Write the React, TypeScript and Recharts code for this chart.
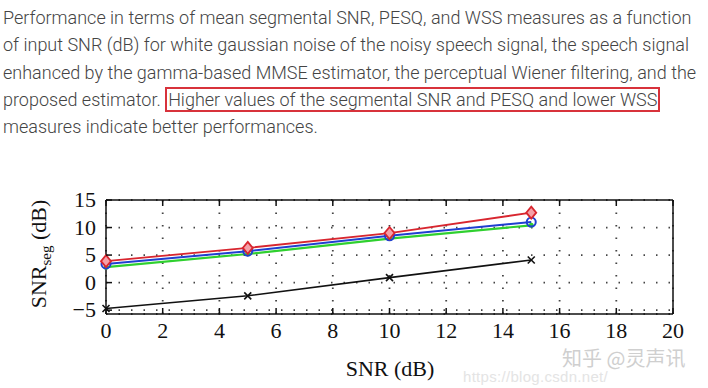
import React from 'react';
import {
  LineChart, Line, XAxis, YAxis, CartesianGrid,
} from 'recharts';

// input SNR (dB)
const snrIn = [0, 5, 10, 15];
// segmental SNR (dB) for each curve
const noisy = [-4.7, -2.4, 0.9, 4.1];
const gammaMmse = [2.8, 5.2, 8.0, 10.4];
const wiener = [3.4, 5.7, 8.5, 11.0];
const proposed = [3.9, 6.3, 9.0, 12.7];

const xTicks = [0, 2, 4, 6, 8, 10, 12, 14, 16, 18, 20];
const yTicks = [-5, 0, 5, 10, 15];

const data = snrIn.map((snr, i) => ({
  snr,
  noisy: noisy[i],
  gamma: gammaMmse[i],
  wiener: wiener[i],
  proposed: proposed[i],
}));

const serif = '"Liberation Serif", "DejaVu Serif", serif';

const BottomTick = (props: any) => {
  const { x, y, payload } = props;
  return (
    <g>
      <line x1={x} y1={y} x2={x} y2={y - 6} stroke="#111" strokeWidth={1.5} />
      <text x={x} y={y + 24} textAnchor="middle" fontFamily={serif} fontSize={22} fill="#111">
        {payload.value}
      </text>
    </g>
  );
};

const TopTick = (props: any) => {
  const { x, y } = props;
  return <line x1={x} y1={y} x2={x} y2={y + 6} stroke="#111" strokeWidth={1.5} />;
};

const LeftTick = (props: any) => {
  const { x, y, payload } = props;
  const v = payload.value;
  return (
    <g>
      <line x1={x} y1={y} x2={x + 6} y2={y} stroke="#111" strokeWidth={1.5} />
      <text x={x - 10} y={y + 7} textAnchor="end" fontFamily={serif} fontSize={22} fill="#111">
        {v < 0 ? '\u2212' + Math.abs(v) : v}
      </text>
    </g>
  );
};

const RightTick = (props: any) => {
  const { x, y } = props;
  return <line x1={x} y1={y} x2={x - 6} y2={y} stroke="#111" strokeWidth={1.5} />;
};

const Diamond = (props: any) => {
  const { cx, cy } = props;
  return (
    <polygon
      points={`${cx},${cy - 6} ${cx + 5},${cy} ${cx},${cy + 6} ${cx - 5},${cy}`}
      fill="#f4a0a8"
      stroke="#d8262f"
      strokeWidth={1.8}
    />
  );
};

const Ring = (props: any) => {
  const { cx, cy } = props;
  return <circle cx={cx} cy={cy} r={4.5} fill="none" stroke="#1f3fd0" strokeWidth={2} />;
};

const Dot = (props: any) => {
  const { cx, cy } = props;
  return <circle cx={cx} cy={cy} r={2.5} fill="#33cc33" />;
};

const Cross = (props: any) => {
  const { cx, cy } = props;
  return (
    <g stroke="#111" strokeWidth={1.6}>
      <line x1={cx - 3.5} y1={cy - 3.5} x2={cx + 3.5} y2={cy + 3.5} />
      <line x1={cx - 3.5} y1={cy + 3.5} x2={cx + 3.5} y2={cy - 3.5} />
    </g>
  );
};

const YLabel = () => (
  <text
    transform="translate(46,254) rotate(-90)"
    textAnchor="middle"
    fontFamily={serif}
    fontSize={22}
    fill="#111"
  >
    SNR
    <tspan fontSize={15} dy={5}>seg</tspan>
    <tspan dy={-5}> (dB)</tspan>
  </text>
);

const XLabel = () => (
  <text x={390} y={376} textAnchor="middle" fontFamily={serif} fontSize={22} fill="#111">
    SNR (dB)
  </text>
);

const App = () => (
  <div style={{ position: 'absolute', left: 0, top: 0, width: 708, height: 388, background: '#fff' }}>
    <div
      style={{
        position: 'absolute',
        left: 3,
        top: 4,
        width: 705,
        fontFamily: 'Roboto, sans-serif',
        fontWeight: 300,
        fontSize: 18,
        lineHeight: '27.3px',
        color: '#444',
        whiteSpace: 'nowrap',
      }}
    >
      <div>Performance in terms of mean segmental SNR, PESQ, and WSS measures as a function</div>
      <div>of input SNR (dB) for white gaussian noise of the noisy speech signal, the speech signal</div>
      <div>enhanced by the gamma-based MMSE estimator, the perceptual Wiener filtering, and the</div>
      <div>
        proposed estimator.{' '}
        <span style={{ border: '2px solid #d8323b', padding: '0 1px' }}>
          Higher values of the segmental SNR and PESQ and lower WSS
        </span>
      </div>
      <div>measures indicate better performances.</div>
    </div>
    <div style={{ position: 'absolute', left: 0, top: 0 }}>
      <LineChart
        width={708}
        height={388}
        data={data}
        margin={{ top: 199, right: 34, bottom: 73, left: 105 }}
      >
        <CartesianGrid stroke="#444" strokeWidth={1.8} strokeDasharray="1.5 11" />
        <XAxis
          dataKey="snr"
          type="number"
          domain={[0, 20]}
          ticks={xTicks}
          height={1}
          tickSize={0}
          tickMargin={0}
          tickLine={false}
          tick={<BottomTick />}
          axisLine={{ stroke: '#111', strokeWidth: 1.5 }}
          label={{ content: <XLabel /> }}
        />
        <XAxis
          xAxisId="top"
          orientation="top"
          dataKey="snr"
          type="number"
          domain={[0, 20]}
          ticks={xTicks}
          height={1}
          tickSize={0}
          tickMargin={0}
          tickLine={false}
          tick={<TopTick />}
          axisLine={{ stroke: '#111', strokeWidth: 1.5 }}
        />
        <YAxis
          type="number"
          domain={[-5.7, 15]}
          ticks={yTicks}
          width={1}
          tickSize={0}
          tickMargin={0}
          tickLine={false}
          tick={<LeftTick />}
          axisLine={{ stroke: '#111', strokeWidth: 1.5 }}
          label={{ content: <YLabel /> }}
        />
        <YAxis
          yAxisId="right"
          orientation="right"
          type="number"
          domain={[-5.7, 15]}
          ticks={yTicks}
          width={1}
          tickSize={0}
          tickMargin={0}
          tickLine={false}
          tick={<RightTick />}
          axisLine={{ stroke: '#111', strokeWidth: 1.5 }}
        />
        <Line dataKey="noisy" stroke="#111" strokeWidth={1.6} dot={<Cross />} isAnimationActive={false} />
        <Line dataKey="gamma" stroke="#2fd02f" strokeWidth={2.2} dot={<Dot />} isAnimationActive={false} />
        <Line dataKey="wiener" stroke="#1f3fd0" strokeWidth={2} dot={<Ring />} isAnimationActive={false} />
        <Line dataKey="proposed" stroke="#d8262f" strokeWidth={1.8} dot={<Diamond />} isAnimationActive={false} />
      </LineChart>
    </div>
    <div
      style={{
        position: 'absolute',
        left: 562,
        top: 348,
        fontFamily: '"Noto Sans CJK SC", sans-serif',
        fontSize: 20,
        lineHeight: '20px',
        color: '#cfcfcf',
      }}
    >
      知乎 @灵声讯
    </div>
    <div
      style={{
        position: 'absolute',
        left: 463,
        top: 369,
        fontFamily: 'Arial, "Liberation Sans", sans-serif',
        fontSize: 15,
        lineHeight: '16px',
        color: '#e4e4e4',
        letterSpacing: 0.3,
      }}
    >
      https://blog.csdn.net/
    </div>
  </div>
);

export default App;
